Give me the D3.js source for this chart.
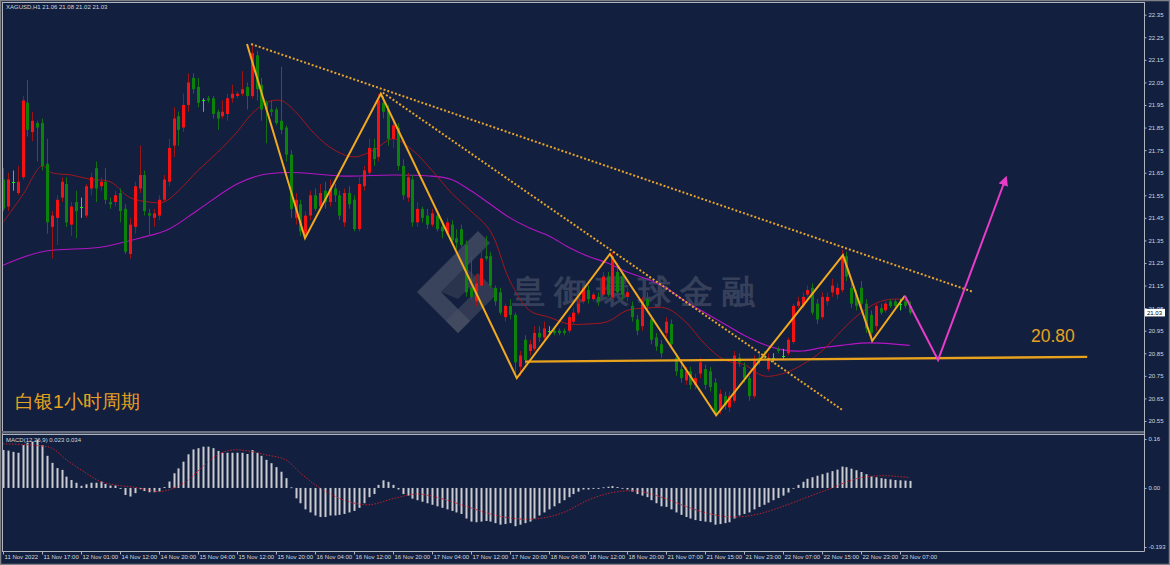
<!DOCTYPE html>
<html><head><meta charset="utf-8">
<script src="https://cdn.jsdelivr.net/npm/d3@7"></script>
<style>
html,body{margin:0;padding:0;background:#121f3f;overflow:hidden;}
svg{display:block;}
text{font-family:"Liberation Sans",Arial,sans-serif;}
</style></head><body>
<svg id="c" width="1170" height="565"></svg>
<script>
// ---------- DATA ----------
const symbolTitle = "XAGUSD,H1  21.06 21.08 21.02 21.03";
const macdTitle = "MACD(12,26,9) 0.023 0.034";
// [open, high, low, close] per H1 bar
const candles = [
[21.62,21.67,21.48,21.49],[21.50,21.65,21.48,21.62],[21.61,21.66,21.57,21.61],[21.56,21.68,21.55,21.61],
[21.63,21.99,21.62,21.97],[21.96,22.06,21.81,21.84],[21.83,21.92,21.79,21.88],[21.87,21.88,21.70,21.85],
[21.87,21.89,21.66,21.68],[21.69,21.80,21.38,21.43],[21.41,21.48,21.27,21.46],[21.45,21.55,21.33,21.53],
[21.54,21.63,21.52,21.61],[21.60,21.63,21.41,21.43],[21.42,21.52,21.37,21.50],[21.52,21.57,21.36,21.48],
[21.50,21.54,21.45,21.50],[21.46,21.60,21.45,21.59],[21.58,21.65,21.55,21.63],[21.67,21.70,21.52,21.58],
[21.59,21.63,21.57,21.61],[21.61,21.67,21.51,21.53],[21.52,21.54,21.49,21.51],[21.52,21.57,21.50,21.55],
[21.56,21.58,21.43,21.48],[21.49,21.51,21.29,21.30],[21.29,21.45,21.27,21.42],[21.41,21.61,21.38,21.59],
[21.58,21.77,21.56,21.64],[21.64,21.66,21.46,21.48],[21.47,21.49,21.37,21.46],[21.45,21.49,21.41,21.47],
[21.46,21.55,21.44,21.53],[21.53,21.64,21.52,21.62],[21.61,21.80,21.59,21.76],[21.77,21.94,21.72,21.89],
[21.90,21.92,21.77,21.84],[21.85,22.00,21.83,21.95],[21.95,22.09,21.92,22.05],[22.07,22.09,22.00,22.02],
[22.03,22.07,21.94,21.96],[21.97,21.98,21.92,21.97],[21.98,21.99,21.96,21.97],[21.98,21.99,21.89,21.91],
[21.92,21.93,21.84,21.89],[21.90,21.97,21.89,21.92],[21.91,22.00,21.88,21.98],[21.98,22.04,21.96,22.00],
[21.99,22.01,21.98,22.00],[22.00,22.10,21.99,22.02],[22.03,22.05,21.93,21.99],[21.99,22.22,21.98,22.18],
[22.17,22.19,21.97,22.02],[22.04,22.07,21.88,21.93],[21.96,21.97,21.78,21.93],[21.93,21.97,21.90,21.92],
[21.93,21.94,21.86,21.87],[21.88,22.12,21.82,21.84],[21.85,21.86,21.70,21.73],[21.73,21.75,21.45,21.49],
[21.45,21.56,21.42,21.53],[21.51,21.53,21.37,21.39],[21.37,21.48,21.36,21.46],[21.46,21.57,21.44,21.55],
[21.55,21.58,21.48,21.49],[21.50,21.60,21.49,21.56],[21.57,21.61,21.49,21.52],[21.52,21.62,21.50,21.58],
[21.58,21.60,21.52,21.55],[21.55,21.57,21.44,21.46],[21.43,21.58,21.41,21.56],[21.56,21.59,21.49,21.51],
[21.53,21.55,21.39,21.40],[21.40,21.63,21.39,21.60],[21.59,21.68,21.57,21.66],[21.65,21.80,21.64,21.76],
[21.76,21.80,21.68,21.71],[21.72,22.00,21.70,21.97],[21.96,21.99,21.89,21.92],[21.93,21.95,21.77,21.80],
[21.80,21.88,21.76,21.86],[21.85,21.87,21.66,21.68],[21.68,21.71,21.53,21.55],[21.54,21.65,21.52,21.63],
[21.62,21.64,21.41,21.43],[21.43,21.52,21.41,21.49],[21.49,21.50,21.43,21.45],[21.46,21.49,21.40,21.42],
[21.42,21.49,21.41,21.47],[21.46,21.48,21.39,21.40],[21.41,21.44,21.36,21.39],[21.38,21.45,21.37,21.43],
[21.42,21.44,21.33,21.35],[21.36,21.40,21.31,21.34],[21.40,21.42,21.32,21.33],[21.33,21.35,21.10,21.12],
[21.14,21.28,21.09,21.10],[21.08,21.20,21.06,21.16],[21.15,21.31,21.14,21.27],[21.28,21.37,21.26,21.27],
[21.28,21.30,21.14,21.15],[21.14,21.15,21.06,21.08],[21.12,21.14,21.02,21.03],[21.01,21.07,20.99,21.06],
[21.06,21.09,21.00,21.02],[21.02,21.03,20.74,20.81],[20.79,20.86,20.75,20.84],[20.91,20.93,20.80,20.82],
[20.86,20.91,20.84,20.89],[20.87,20.97,20.86,20.94],[20.94,20.97,20.90,20.92],[20.92,20.99,20.90,20.96],
[20.95,20.97,20.93,20.95],[20.95,20.97,20.93,20.94],[20.95,20.96,20.93,20.94],[20.95,20.96,20.93,20.94],
[20.95,21.02,20.94,21.01],[20.99,21.05,20.98,21.03],[21.03,21.09,21.02,21.07],[21.08,21.16,21.07,21.14],
[21.13,21.15,21.07,21.09],[21.09,21.12,21.08,21.11],[21.10,21.12,21.06,21.08],[21.11,21.21,21.10,21.19],
[21.19,21.21,21.10,21.11],[21.10,21.30,21.09,21.28],[21.21,21.25,21.11,21.12],[21.19,21.21,21.09,21.11],
[21.10,21.14,21.08,21.12],[21.06,21.08,20.99,21.01],[21.00,21.02,20.93,20.95],[20.97,21.10,20.95,21.08],
[21.09,21.12,21.04,21.06],[21.00,21.02,20.89,20.91],[20.92,20.94,20.86,20.88],[20.89,20.91,20.83,20.85],
[20.94,21.01,20.92,20.99],[20.98,21.00,20.87,20.89],[20.83,20.85,20.75,20.77],[20.78,20.80,20.72,20.74],
[20.73,20.79,20.71,20.77],[20.77,20.79,20.69,20.71],[20.71,20.76,20.69,20.74],[20.76,20.83,20.74,20.81],
[20.78,20.80,20.69,20.71],[20.77,20.79,20.68,20.70],[20.72,20.74,20.57,20.58],[20.60,20.69,20.58,20.67],
[20.66,20.68,20.60,20.62],[20.61,20.68,20.59,20.66],[20.64,20.86,20.63,20.84],[20.83,20.85,20.79,20.81],
[20.79,20.81,20.72,20.74],[20.74,20.75,20.64,20.66],[20.66,20.84,20.65,20.82],[20.83,20.85,20.80,20.82],
[20.84,20.86,20.82,20.83],[20.78,20.85,20.77,20.83],[20.83,20.85,20.81,20.83],[20.87,20.88,20.85,20.86],
[20.84,20.87,20.82,20.84],[20.85,20.92,20.84,20.91],[20.90,21.07,20.89,21.06],[21.06,21.10,21.05,21.08],
[21.06,21.12,21.05,21.10],[21.11,21.15,21.10,21.13],[21.14,21.16,21.02,21.03],[21.07,21.09,20.98,21.00],
[21.01,21.12,21.00,21.10],[21.08,21.12,21.06,21.10],[21.12,21.18,21.10,21.15],[21.11,21.16,21.09,21.14],
[21.13,21.31,21.12,21.28],[21.28,21.30,21.17,21.19],[21.14,21.16,21.05,21.07],[21.11,21.13,21.04,21.06],
[21.14,21.17,21.05,21.07],[21.07,21.09,20.94,20.96],[21.02,21.04,20.91,20.94],[20.97,21.07,20.95,21.06],
[21.05,21.07,21.02,21.03],[21.04,21.08,21.03,21.07],[21.08,21.09,21.05,21.06],[21.08,21.09,21.05,21.06],
[21.07,21.09,21.04,21.07],[21.08,21.09,21.05,21.06],[21.06,21.08,21.02,21.03]
];
// moving averages, [bar index, value]
const maFast = [[0,21.43],[4,21.55],[8,21.68],[10,21.65],[14,21.64],[18,21.62],[22,21.61],[26,21.54],[30,21.52],[33,21.52],[36,21.57],[40,21.66],[44,21.74],[48,21.83],[51,21.91],[54,21.96],[57,21.97],[60,21.92],[64,21.82],[68,21.75],[72,21.72],[76,21.75],[80,21.80],[84,21.75],[88,21.66],[92,21.56],[96,21.48],[100,21.39],[104,21.17],[108,21.04],[112,21.01],[116,20.98],[120,20.98],[124,20.99],[128,21.04],[132,21.05],[136,21.05],[140,20.99],[144,20.89],[148,20.82],[152,20.80],[156,20.75],[160,20.76],[164,20.80],[168,20.86],[172,20.95],[176,21.03],[180,21.08],[184,21.09],[186,21.08]];
const maSlow = [[0,21.24],[8,21.30],[20,21.32],[28,21.36],[34,21.40],[40,21.485],[48,21.60],[53,21.64],[57,21.65],[61,21.65],[70,21.635],[80,21.64],[88,21.635],[92,21.62],[96,21.57],[100,21.51],[104,21.45],[108,21.405],[112,21.37],[116,21.32],[120,21.28],[124,21.25],[128,21.21],[132,21.18],[136,21.14],[140,21.08],[144,21.03],[148,20.98],[152,20.93],[156,20.89],[160,20.865],[164,20.86],[168,20.875],[172,20.885],[176,20.895],[180,20.895],[186,20.885]];
const macdHist = [0.124,0.122,0.118,0.115,0.14,0.148,0.151,0.157,0.14,0.105,0.082,0.065,0.059,0.037,0.026,0.017,0.007,0.012,0.017,0.017,
0.021,0.013,0.008,0.008,-0.003,-0.023,-0.028,-0.017,-0.004,-0.01,-0.014,-0.014,-0.012,0.003,0.021,0.048,0.064,0.086,0.11,0.126,
0.13,0.135,0.135,0.13,0.121,0.115,0.115,0.115,0.115,0.115,0.111,0.124,0.115,0.105,0.092,0.081,0.068,0.053,0.032,0.002,
-0.034,-0.05,-0.07,-0.08,-0.09,-0.095,-0.095,-0.09,-0.09,-0.088,-0.085,-0.08,-0.075,-0.065,-0.05,-0.03,-0.02,0.01,0.025,0.02,
0.01,-0.005,-0.02,-0.025,-0.035,-0.04,-0.045,-0.05,-0.055,-0.06,-0.065,-0.07,-0.075,-0.08,-0.085,-0.1,-0.11,-0.112,-0.11,-0.108,
-0.11,-0.115,-0.12,-0.118,-0.115,-0.125,-0.12,-0.115,-0.11,-0.1,-0.09,-0.08,-0.07,-0.06,-0.05,-0.04,-0.03,-0.02,-0.012,-0.005,
-0.005,-0.003,-0.003,0.002,0.004,0.006,0.003,0.0,-0.005,-0.012,-0.02,-0.025,-0.03,-0.04,-0.05,-0.06,-0.062,-0.07,-0.08,-0.088,
-0.095,-0.1,-0.105,-0.108,-0.11,-0.112,-0.12,-0.118,-0.115,-0.112,-0.1,-0.09,-0.085,-0.08,-0.07,-0.062,-0.055,-0.048,-0.04,-0.033,
-0.025,-0.015,0.0,0.01,0.02,0.03,0.035,0.04,0.045,0.05,0.055,0.06,0.07,0.068,0.063,0.058,0.052,0.045,0.038,0.035,
0.032,0.03,0.028,0.026,0.025,0.024,0.023];
const macdSignal = [[0,0.144],[6,0.14],[10,0.13],[13,0.092],[17,0.049],[20,0.021],[23,0.01],[27,0.002],[30,-0.007],[32,-0.012],[35,-0.001],[38,0.026],[41,0.07],[44,0.108],[47,0.124],[51,0.119],[54,0.108],[58,0.092],[61,0.049],[65,0.0],[70,-0.04],[75,-0.055],[80,-0.035],[85,-0.02],[90,-0.035],[95,-0.06],[100,-0.085],[105,-0.1],[110,-0.1],[115,-0.08],[120,-0.04],[125,-0.015],[130,-0.01],[135,-0.03],[140,-0.06],[145,-0.085],[150,-0.095],[155,-0.085],[160,-0.06],[165,-0.03],[170,0.0],[175,0.03],[180,0.04],[186,0.034]];
const priceTicks = [22.35,22.25,22.15,22.05,21.95,21.85,21.75,21.65,21.55,21.45,21.35,21.25,21.15,21.05,20.95,20.85,20.75,20.65,20.55];
const macdTicks = [0.16,0.00,-0.193];
const timeLabels = ["11 Nov 2022","11 Nov 17:00","12 Nov 01:00","14 Nov 12:00","14 Nov 20:00","15 Nov 04:00","15 Nov 12:00","15 Nov 20:00","16 Nov 04:00","16 Nov 12:00","16 Nov 20:00","17 Nov 04:00","17 Nov 12:00","17 Nov 20:00","18 Nov 04:00","18 Nov 12:00","18 Nov 20:00","21 Nov 07:00","21 Nov 15:00","21 Nov 23:00","22 Nov 07:00","22 Nov 15:00","22 Nov 23:00","23 Nov 07:00"];
const lastPrice = 21.03;
// drawn analysis (bar index, price)
const zigzag = [[50.05,22.22],[61.95,21.36],[77.5,22.00],[105.4,20.74],[124.5,21.29],[146.3,20.575],[172.3,21.285],[178.3,20.905],[185.0,21.105]];
const projection = [[185.0,21.105],[191.8,20.82],[205.6,21.62]];
const supportLine = [[107.1,20.813],[222.4,20.834]];
const upperTrend = [[50.9,22.22],[199.0,21.122]];
const innerTrend = [[77.9,22.005],[172.1,20.60]];
const supportLabel = "20.80";
const periodLabel = "白银1小时周期";
const watermark = "皇御環球金融";

// ---------- SCALES ----------
const svg = d3.select("#c");
const axisX = 1144;
const x = d3.scaleLinear().domain([0, 186]).range([3, 3 + 186 * 4.875]);
const y = d3.scaleLinear().domain([20.55, 22.35]).range([421, 14.7]);
const my = d3.scaleLinear().domain([-0.193, 0.16]).range([547, 439]);

svg.append("rect").attr("width",1170).attr("height",565).attr("fill","#121f3f");

const defs = svg.append("defs");
defs.append("clipPath").attr("id","mainClip").append("rect").attr("x",3).attr("y",3).attr("width",axisX-3).attr("height",428);
defs.append("clipPath").attr("id","macdClip").append("rect").attr("x",3).attr("y",435).attr("width",axisX-3).attr("height",116);
defs.append("marker").attr("id","arr").attr("viewBox","0 0 10 10").attr("refX",6).attr("refY",5)
  .attr("markerWidth",5).attr("markerHeight",5).attr("orient","auto")
  .append("path").attr("d","M0,0 L10,5 L0,10 z").attr("fill","#e83cc8");

// ---------- WATERMARK ----------
const wm = svg.append("g");
wm.append("path").attr("d","M478,231 L417,292 L458,333 L470,321 L441,292 L490,243 Z").attr("fill","#6b7080").attr("opacity",0.45);
wm.append("path").attr("d","M458,333 L498,293 L478,273 L466,285 L474,293 L446,321 Z").attr("fill","#4a5062").attr("opacity",0.55);
wm.append("path").attr("d","M441,292 L466,267 L478,279 L458,299 Z").attr("fill","#3b4255").attr("opacity",0.6);
wm.append("text").attr("x",512).attr("y",303).attr("font-size",33).attr("letter-spacing",9)
  .attr("font-family","'Noto Sans CJK TC','Noto Sans CJK SC',sans-serif").attr("font-weight","bold")
  .attr("fill","#7a7f8c").attr("opacity",0.35).text(watermark);

// ---------- MAIN PANEL ----------
const main = svg.append("g").attr("clip-path","url(#mainClip)");
const maLine = d3.line().x(d=>x(d[0])).y(d=>y(d[1])).curve(d3.curveCatmullRom);
main.append("path").attr("d",maLine(maSlow)).attr("fill","none").attr("stroke","#b415c4").attr("stroke-width",1.1);
main.append("path").attr("d",maLine(maFast)).attr("fill","none").attr("stroke","#a3171c").attr("stroke-width",1);

const cg = main.append("g");
candles.forEach((d,i)=>{
  const [o,h,l,c] = d;
  const cx = Math.round(x(i));
  const doji = Math.abs(c-o) < 0.005;
  const up = c > o;
  const wickCol = doji ? "#22e022" : (up ? "#9c1414" : "#137013");
  cg.append("line").attr("x1",cx+0.5).attr("x2",cx+0.5).attr("y1",y(h)).attr("y2",y(l)).attr("stroke",wickCol).attr("stroke-width",1);
  if (doji) {
    cg.append("line").attr("x1",cx-1).attr("x2",cx+2).attr("y1",Math.round(y(o))+0.5).attr("y2",Math.round(y(o))+0.5).attr("stroke","#22e022");
  } else {
    const top = y(Math.max(o,c)), bot = y(Math.min(o,c));
    cg.append("rect").attr("x",cx-1).attr("width",3).attr("y",top).attr("height",Math.max(1,bot-top))
      .attr("fill", up ? "#f51212" : "#0b830b");
  }
});

// annotations
const pl = d3.line().x(d=>x(d[0])).y(d=>y(d[1]));
main.append("path").attr("d",pl(supportLine)).attr("stroke","#e9a21c").attr("stroke-width",2.4).attr("fill","none");
main.append("path").attr("d",pl(upperTrend)).attr("stroke","#e7a42a").attr("stroke-width",2).attr("stroke-dasharray","2,2").attr("fill","none");
main.append("path").attr("d",pl(innerTrend)).attr("stroke","#e7a42a").attr("stroke-width",2).attr("stroke-dasharray","2,2").attr("fill","none");
main.append("path").attr("d",pl(zigzag)).attr("stroke","#f2a91e").attr("stroke-width",2).attr("fill","none").attr("stroke-linejoin","miter");
main.append("path").attr("d",pl(projection)).attr("stroke","#e83cc8").attr("stroke-width",2).attr("fill","none").attr("marker-end","url(#arr)");

svg.append("text").attr("x",1031).attr("y",342).attr("font-size",17.5).attr("fill","#e6a21e")
  .attr("font-family","'Liberation Sans',Arial,sans-serif").text(supportLabel);
svg.append("text").attr("x",15).attr("y",408).attr("font-size",19).attr("fill","#e6a21e")
  .attr("font-family","'Noto Sans CJK SC',sans-serif").text(periodLabel);

// ---------- MACD PANEL ----------
const mp = svg.append("g").attr("clip-path","url(#macdClip)");
macdHist.forEach((v,i)=>{
  const cx = Math.round(x(i));
  const a = my(Math.max(v,0)), b = my(Math.min(v,0));
  mp.append("rect").attr("x",cx-0.5).attr("width",2).attr("y",a).attr("height",Math.max(0.8,b-a)).attr("fill","#c9cbd0");
});
mp.append("path").attr("d",d3.line().x(d=>x(d[0])).y(d=>my(d[1])).curve(d3.curveCatmullRom)(macdSignal))
  .attr("fill","none").attr("stroke","#c2202a").attr("stroke-width",1).attr("stroke-dasharray","1.5,1.5");

// ---------- FRAME & AXES ----------
const frameCol = "#aeb3bd";
svg.append("rect").attr("x",0.5).attr("y",0.5).attr("width",1169).attr("height",564).attr("fill","none").attr("stroke","#7e8085").attr("stroke-width",1.5);
svg.append("line").attr("x1",2).attr("x2",axisX).attr("y1",2.5).attr("y2",2.5).attr("stroke",frameCol);
svg.append("line").attr("x1",2.5).attr("x2",2.5).attr("y1",2).attr("y2",551).attr("stroke",frameCol);
svg.append("rect").attr("x",2).attr("y",431).attr("width",axisX-2).attr("height",2.5).attr("fill","#69707f");
svg.append("line").attr("x1",2).attr("x2",axisX).attr("y1",434.5).attr("y2",434.5).attr("stroke",frameCol);
svg.append("line").attr("x1",2).attr("x2",axisX+0.5).attr("y1",551.5).attr("y2",551.5).attr("stroke",frameCol);
svg.append("line").attr("x1",axisX+0.5).attr("x2",axisX+0.5).attr("y1",2).attr("y2",551.5).attr("stroke",frameCol);

function styleAxis(g){
  g.select(".domain").remove();
  g.selectAll(".tick line").attr("stroke",frameCol);
  g.selectAll(".tick text").attr("fill","#d4d7de").attr("font-size",6).attr("font-family","'Liberation Sans',Arial,sans-serif");
}
svg.append("g").attr("transform",`translate(${axisX+0.5},0)`)
  .call(d3.axisRight(y).tickValues(priceTicks).tickSize(2).tickPadding(2).tickFormat(d3.format(".2f")))
  .call(styleAxis);
svg.append("g").attr("transform",`translate(${axisX+0.5},0)`)
  .call(d3.axisRight(my).tickValues(macdTicks).tickSize(2).tickPadding(2).tickFormat(d=> d===-0.193 ? "-0.193" : d3.format(".2f")(d)))
  .call(styleAxis);
const xa = svg.append("g").attr("transform","translate(0,551.5)")
  .call(d3.axisBottom(x).tickValues(timeLabels.map((_,k)=>k*8)).tickSize(3).tickPadding(1).tickFormat((d,k)=>timeLabels[k]))
  .call(styleAxis);
xa.selectAll(".tick text").attr("text-anchor","start").attr("dx",1).attr("dy","0.55em");

// last price tag
const lp = svg.append("g");
lp.append("rect").attr("x",axisX+1).attr("y",y(lastPrice)-3.8).attr("width",20).attr("height",7.6).attr("fill","#ffffff");
lp.append("text").attr("x",axisX+3).attr("y",y(lastPrice)+2.3).attr("font-size",6).attr("fill","#000").text(d3.format(".2f")(lastPrice));

// titles
svg.append("text").attr("x",6).attr("y",9).attr("font-size",6).attr("fill","#d4d7de").text(symbolTitle);
svg.append("text").attr("x",6).attr("y",442).attr("font-size",6).attr("fill","#d4d7de").text(macdTitle);
</script>
</body></html>
